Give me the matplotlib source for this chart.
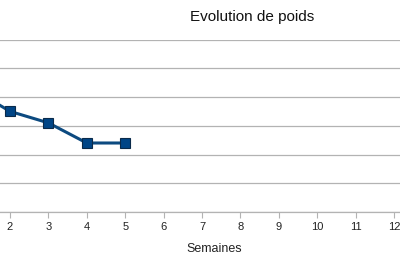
import matplotlib
matplotlib.use("Agg")
from matplotlib import pyplot as plt

# data (weekly weight, y labels cropped off the picture)
semaines = [1, 2, 3, 4, 5]
poids = [74.3, 73.5, 73.1, 72.4, 72.4]
x_ticks = list(range(2, 13))

plt.rcParams['font.family'] = ['Liberation Sans', 'DejaVu Sans']

fig = plt.figure(figsize=(4, 2.66), dpi=100)
fig.patch.set_facecolor('white')

# plot area is wider than the picture: left part was cut off
ax = fig.add_axes([-0.119, 0.203, 1.152, 0.6485])
ax.set_xlim(0.5, 12.5)
ax.set_ylim(70, 76)

ax.plot(semaines, poids, color='#0c4a80', linewidth=2.2, marker='s',
        markersize=6.5, markerfacecolor='#004586', markeredgecolor='#0a2a4a',
        markeredgewidth=0.8, zorder=3)

ax.set_yticks(range(70, 77))
ax.yaxis.grid(True, color='#b3b3b3', linewidth=0.9)
ax.set_yticklabels([])
ax.tick_params(axis='y', length=0)

ax.set_xticks(x_ticks)
ax.set_xticklabels([str(t) for t in x_ticks], fontsize=8, color='#222222')
ax.tick_params(axis='x', direction='out', length=4, width=0.8, color='#b3b3b3', pad=3)

for side in ['top', 'left', 'right']:
    ax.spines[side].set_visible(False)
ax.spines['bottom'].set_color('#b3b3b3')
ax.spines['bottom'].set_linewidth(0.9)

fig.text(214 / 400, 1 - 249 / 266, 'Semaines', fontsize=9, color='#222222',
         ha='center', va='center')
fig.text(252 / 400, 1 - 17 / 266, 'Evolution de poids', fontsize=11,
         color='#111111', ha='center', va='center')

fig.savefig('out.png', dpi=100)
